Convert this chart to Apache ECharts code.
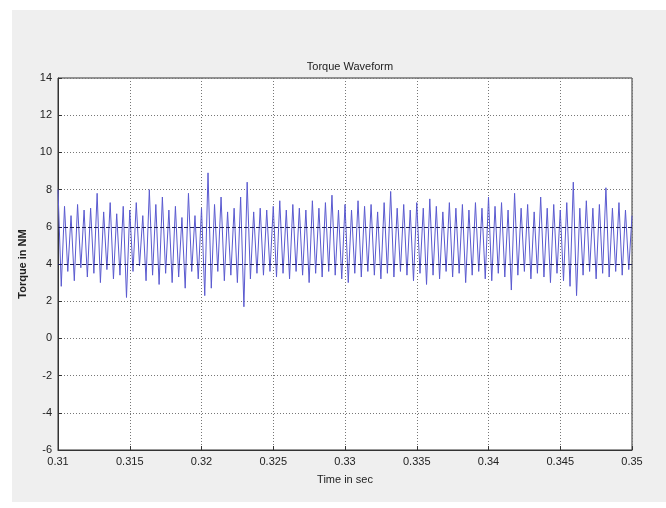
<!DOCTYPE html>
<html>
<head>
<meta charset="utf-8">
<script src="https://cdn.jsdelivr.net/npm/echarts@6/dist/echarts.min.js"></script>
<style>
  html, body { margin: 0; padding: 0; background: #fff; }
  #frame { position: absolute; left: 12px; top: 10px; width: 654px; height: 492px; background: #efefef; }
  #main { position: absolute; left: 0; top: 0; width: 666px; height: 508px; }
</style>
</head>
<body>
<div id="frame"></div>
<div id="main"></div>
<script>
// time axis (sec)
var tStart = 0.31;
var tEnd = 0.35;
var xTicks = [0.31, 0.315, 0.32, 0.325, 0.33, 0.335, 0.34, 0.345, 0.35];
var yTicks = [-6, -4, -2, 0, 2, 4, 6, 8, 10, 12, 14];
// torque band lines
var bandLines = [4, 6];

// torque samples: alternating peaks and troughs
var torque = [
    8.0, 2.8, 7.1, 3.6, 6.6, 3.1, 7.2, 3.8, 6.9, 3.3,
    7.0, 3.5, 7.8, 3.0, 6.8, 3.7, 7.3, 3.2, 6.7, 3.4,
    7.1, 2.2, 6.9, 3.6, 7.3, 3.9, 6.6, 3.1, 8.0, 3.4,
    7.2, 2.9, 7.6, 3.5, 6.9, 3.0, 7.1, 3.3, 6.5, 2.7,
    7.8, 3.6, 6.6, 3.2, 7.0, 2.3, 8.9, 2.7, 7.2, 3.6,
    7.6, 3.1, 6.8, 3.4, 7.0, 3.0, 7.6, 1.7, 8.4, 3.2,
    6.8, 3.5, 7.0, 3.4, 6.9, 3.6, 7.1, 3.3, 7.4, 3.5,
    6.9, 3.2, 7.2, 3.6, 7.0, 3.4, 6.9, 3.0, 7.4, 3.5,
    7.0, 3.3, 7.3, 3.6, 7.7, 3.4, 6.9, 3.2, 7.2, 3.0,
    6.9, 3.5, 7.4, 3.3, 7.1, 3.6, 7.2, 3.4, 6.8, 3.2,
    7.3, 3.5, 7.9, 3.3, 7.0, 3.6, 7.2, 3.4, 6.9, 3.1,
    7.3, 3.5, 7.0, 2.9, 7.5, 3.4, 7.1, 3.2, 6.8, 3.6,
    7.3, 3.3, 7.0, 3.5, 7.2, 3.0, 6.9, 3.4, 7.3, 3.6,
    7.0, 3.2, 7.6, 3.1, 7.1, 3.5, 7.3, 3.3, 6.9, 2.6,
    7.8, 3.4, 7.0, 3.6, 7.2, 3.2, 6.8, 3.5, 7.6, 3.3,
    7.0, 3.0, 7.2, 3.5, 6.9, 3.1, 7.3, 2.8, 8.4, 2.3,
    7.0, 3.4, 7.4, 3.6, 7.0, 3.2, 7.2, 3.5, 8.1, 3.3,
    7.0, 3.6, 7.3, 3.4, 6.9, 3.7, 6.6
];

var dt = (tEnd - tStart) / (torque.length - 1);
var seriesData = [];
for (var i = 0; i < torque.length; i++) {
    seriesData.push([tStart + i * dt, torque[i]]);
}

var font = '"Liberation Sans Narrow", "Liberation Sans", Arial, sans-serif';

var myChart = echarts.init(document.getElementById('main'));
myChart.setOption({
    animation: false,
    backgroundColor: 'transparent',
    title: {
        text: 'Torque Waveform',
        left: 345,
        top: 56,
        textAlign: 'center',
        textStyle: { fontFamily: font, fontSize: 11, fontWeight: 'normal', color: '#222' }
    },
    grid: {
        show: true,
        left: 58,
        right: 34,
        top: 78,
        bottom: 58,
        backgroundColor: '#fff',
        borderColor: '#333',
        borderWidth: 1
    },
    xAxis: {
        type: 'value',
        min: tStart,
        max: tEnd,
        interval: 0.005,
        name: 'Time in sec',
        nameLocation: 'middle',
        nameGap: 24,
        nameTextStyle: { fontFamily: font, fontSize: 11, color: '#222' },
        axisLine: { show: true, onZero: false, lineStyle: { color: '#333' } },
        axisTick: { show: true, inside: true, length: 4, lineStyle: { color: '#333' } },
        axisLabel: {
            fontFamily: font, fontSize: 11, color: '#222', margin: 6,
            formatter: function (v) { return String(parseFloat(v.toFixed(3))); }
        },
        splitLine: { show: true, lineStyle: { color: '#777', type: [1, 2], width: 1 } }
    },
    yAxis: {
        type: 'value',
        min: yTicks[0],
        max: yTicks[yTicks.length - 1],
        interval: 2,
        name: 'Torque in NM',
        nameLocation: 'middle',
        nameGap: 22,
        nameTextStyle: { fontFamily: font, fontSize: 11, fontWeight: 'bold', color: '#222' },
        axisLine: { show: true, onZero: false, lineStyle: { color: '#333' } },
        axisTick: { show: true, inside: true, length: 4, lineStyle: { color: '#333' } },
        axisLabel: { fontFamily: font, fontSize: 11, color: '#222', margin: 6 },
        splitLine: { show: true, lineStyle: { color: '#777', type: [1, 2], width: 1 } }
    },
    series: [{
        type: 'line',
        data: seriesData,
        showSymbol: false,
        lineStyle: { color: '#5a5ad0', width: 1 },
        markLine: {
            silent: true,
            symbol: 'none',
            label: { show: false },
            lineStyle: { color: '#1c1c55', type: [4, 2], width: 1 },
            data: bandLines.map(function (v) { return { yAxis: v }; })
        }
    }]
});
</script>
</body>
</html>
